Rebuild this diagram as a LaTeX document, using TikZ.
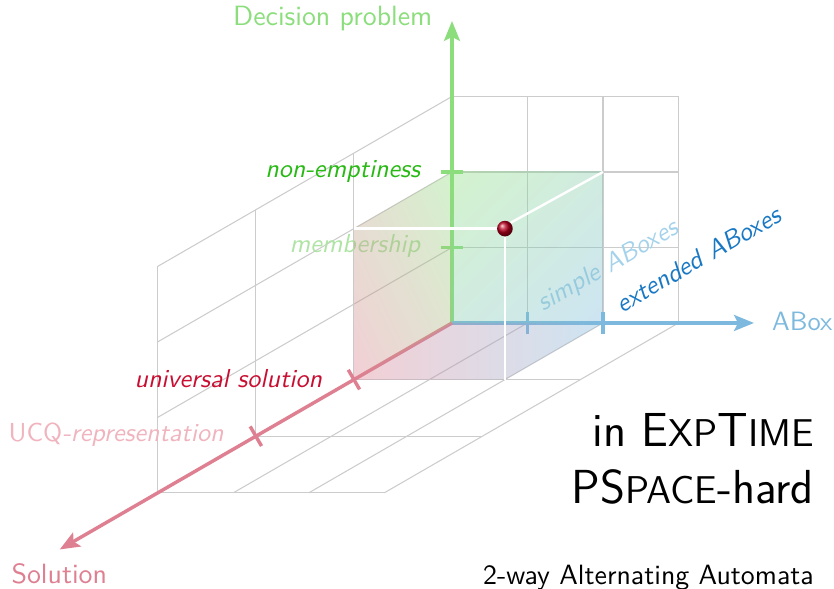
\documentclass[tikz,border=0pt]{standalone}
\usepackage{fontspec}
\usetikzlibrary{arrows.meta,shadings}
\definecolor{axgreen}{RGB}{140,222,125}
\definecolor{axblue}{RGB}{125,185,222}
\definecolor{axred}{RGB}{222,128,145}
\definecolor{cnonempty}{RGB}{40,185,20}
\definecolor{cmember}{RGB}{175,228,165}
\definecolor{cunivers}{RGB}{200,15,50}
\definecolor{cucq}{RGB}{240,180,190}
\definecolor{csimple}{RGB}{165,210,235}
\definecolor{cextended}{RGB}{25,120,195}
\definecolor{dotred}{RGB}{185,0,30}
\tikzset{
  gridline/.style={draw=black!20, line width=0.4pt},
  axisline/.style={line width=1.3pt, -{Stealth[length=7.5pt,width=6pt,inset=1.5pt]}},
  tickline/.style={line width=1.3pt},
  whiteline/.style={draw=white, line width=0.9pt},
  lbl/.style={font=\sffamily\itshape\fontsize{9.8}{12}\selectfont, inner sep=0pt},
  axname/.style={font=\sffamily\fontsize{10.5}{12.6}\selectfont, inner sep=0pt},
  bigtext/.style={font=\sffamily\fontsize{18}{21}\selectfont, inner sep=0pt, anchor=base east},
  facealpha/.style={fill opacity=0.38},
}
\newcommand{\fsc}[1]{{\fontsize{14.6}{16}\selectfont #1}}
\begin{document}
\begin{tikzpicture}[x={(1cm,0cm)}, y={(0cm,1cm)}, z={(-1.299cm,-0.75cm)}]
\useasboundingbox (-5.987,-3.523) rectangle (5.060,4.278);
% grid: back plane
\foreach \x in {1,2,3} \draw[gridline] (\x,0,0) -- (\x,3,0);
\foreach \y in {1,2,3} \draw[gridline] (0,\y,0) -- (3,\y,0);
% left plane
\foreach \z in {1,2,3} \draw[gridline] (0,0,\z) -- (0,3,\z);
\foreach \y in {1,2,3} \draw[gridline] (0,\y,0) -- (0,\y,3);
% bottom plane
\foreach \z in {1,2,3} \draw[gridline] (0,0,\z) -- (3,0,\z);
\foreach \x in {1,2,3} \draw[gridline] (\x,0,0) -- (\x,0,3);
% axes
\coordinate (O) at (0,0,0);
\coordinate (Ytip) at (0,4,0);
\coordinate (Xtip) at (4,0,0);
\coordinate (Ztip) at (0,0,4);
\draw[axisline, draw=axgreen, fill=axgreen] (O) -- (Ytip);
\draw[axisline, draw=axblue, fill=axblue] (O) -- (Xtip);
\draw[axisline, draw=axred, fill=axred] (O) -- (Ztip);
% ticks
\coordinate (Y1) at (0,1,0);
\coordinate (Y2) at (0,2,0);
\coordinate (X1) at (1,0,0);
\coordinate (X2) at (2,0,0);
\coordinate (Z1) at (0,0,1);
\coordinate (Z2) at (0,0,2);
\foreach \p in {Y1,Y2} \draw[tickline, axgreen] ([xshift=-0.15cm]\p) -- ([xshift=0.15cm]\p);
\foreach \p in {X1,X2} \draw[tickline, axblue] ([yshift=-0.15cm]\p) -- ([yshift=0.15cm]\p);
\foreach \p in {Z1,Z2} \draw[tickline, axred] ([shift={(-0.075cm,0.13cm)}]\p) -- ([shift={(0.075cm,-0.13cm)}]\p);
% labels
\node[axname, text=axgreen, anchor=base west] (dp) at (-2.905,3.936) {Decision problem};
\node[axname, text=axblue, anchor=base west, font=\sffamily\fontsize{10}{12}\selectfont] (abox) at (4.234,-0.102) {ABox};
\node[axname, text=axred, anchor=base west] (sol) at (-5.841,-3.457) {Solution};
\node[lbl, text=cnonempty, anchor=base east] (ne) at (-0.415,1.93) {non-emptiness};
\node[lbl, text=cmember, anchor=base east] (mem) at (-0.415,0.931) {membership};
\node[lbl, text=cunivers, anchor=base east] (us) at (-1.713,-0.852) {universal solution};
\node[lbl, text=cucq, anchor=base east] (ucq) at (-3.02,-1.572) {{\upshape UCQ}-representation};
\node[lbl, text=csimple, anchor=base west, rotate=30] (sa) at (1.209,0.150) {simple ABoxes};
\node[lbl, text=cextended, anchor=base west, rotate=30] (ea) at (2.248,0.128) {extended ABoxes};
% cube faces
\shade[facealpha, upper left=axgreen, lower right=axblue, upper right=axgreen!50!axblue, lower left=axgreen!50!axblue]
  (0,0,0) -- (2,0,0) -- (2,2,0) -- (0,2,0) -- cycle;
\shade[facealpha, upper right=axgreen, lower left=axred, upper left=axgreen!50!axred, lower right=axgreen!50!axred]
  (0,0,0) -- (0,2,0) -- (0,2,1) -- (0,0,1) -- cycle;
\shade[facealpha, left color=axred, right color=axblue]
  (0,0,0) -- (2,0,0) -- (2,0,1) -- (0,0,1) -- cycle;
% white edges and point
\coordinate (A) at (0,2,1);
\coordinate (B) at (2,0,1);
\coordinate (C) at (2,2,0);
\node[circle, inner sep=0pt, minimum size=5.9pt, shading=ball, ball color=dotred] (pt) at (2,2,1) {};
\draw[whiteline] (A) -- (pt.west);
\draw[whiteline] (pt.south) -- (B);
\draw[whiteline] (pt.north east) -- (C);
% complexity
\node[bigtext] (exp) at (4.80,-1.638) {in E\fsc{XP}T\fsc{IME}};
\node[bigtext] (psp) at (4.80,-2.397) {PS\fsc{PACE}-hard};
\node[axname, anchor=base east] (aut) at (4.80,-3.47) {2-way Alternating Automata};
\end{tikzpicture}
\end{document}
